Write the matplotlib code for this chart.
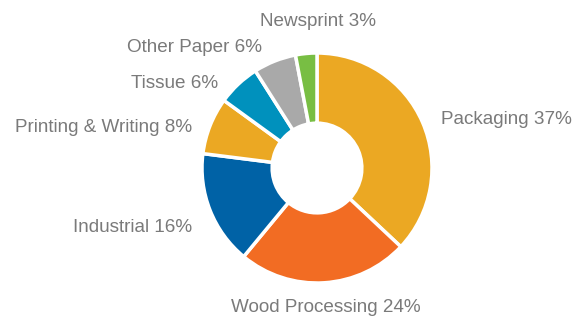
import matplotlib
matplotlib.use('Agg')
import matplotlib.pyplot as plt

# Datos
categorias = ['Packaging', 'Wood Processing', 'Industrial', 'Printing & Writing',
              'Tissue', 'Other Paper', 'Newsprint']
porcentajes = [37, 24, 16, 8, 6, 6, 3]
colores = ['#EBA823', '#F26C23', '#0062A6', '#EBA823', '#0091BD', '#A9A9A9', '#78BE43']

# Posiciones de las etiquetas (pixeles desde arriba-izquierda) y alineacion
pos_etiquetas = [(441, 120), (326, 307), (192, 228), (192, 128),
                 (218, 84), (262, 48), (318, 21)]
alineacion = ['left', 'center', 'right', 'right', 'right', 'right', 'center']

W, H = 578, 318
fig = plt.figure(figsize=(W / 100, H / 100), dpi=100)
ax = fig.add_axes([0, 0, 1, 1])

ax.pie(porcentajes, colors=colores, startangle=90, counterclock=False,
       radius=115, center=(317, H - 168),
       wedgeprops=dict(width=115 * 0.61, edgecolor='white', linewidth=2.5))

# pie() cambia los limites, se fijan despues
ax.set_xlim(0, W)
ax.set_ylim(0, H)
ax.set_aspect('equal')
ax.axis('off')

for cat, p, (x, y), ha in zip(categorias, porcentajes, pos_etiquetas, alineacion):
    ax.text(x, H - y, f'{cat} {p}%', ha=ha, va='center', fontsize=13.6,
            color='#7a7a7a', family='Liberation Sans')

plt.savefig('out.png', dpi=100)
plt.close()
